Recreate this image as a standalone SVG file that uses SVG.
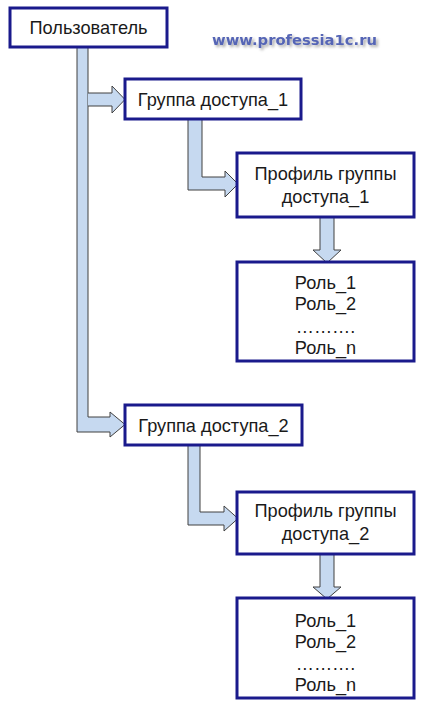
<svg xmlns="http://www.w3.org/2000/svg" width="424" height="706" viewBox="0 0 424 706">
<style>
.box{fill:#fff;stroke:#1a1a8c;stroke-width:3}
.arr{fill:#c6d9f0;stroke:#404040;stroke-width:1;stroke-linejoin:miter}
text{font-family:"Liberation Sans",Arial,sans-serif;font-size:18.2px;fill:#1a1a1a;text-anchor:middle}
.wm{font-family:"DejaVu Sans",Verdana,sans-serif;font-weight:bold;font-size:14px;fill:#5565b5;text-anchor:start}
</style>
<defs>
<filter id="sh" x="-10%" y="-50%" width="120%" height="200%">
<feGaussianBlur in="SourceAlpha" stdDeviation="1.5" result="b"/>
<feOffset dx="2" dy="2" result="o"/>
<feComponentTransfer in="o" result="s"><feFuncA type="linear" slope="0.35"/></feComponentTransfer>
<feMerge><feMergeNode in="s"/><feMergeNode in="SourceGraphic"/></feMerge>
</filter>
</defs>
<rect width="424" height="706" fill="#fff"/>
<g id="connectors">
<path class="arr" d="M77,47 L77,432 L110,432 L110,437 L125,424.5 L110,412 L110,417 L88,417 L88,47"/>
<path class="arr" d="M88,93 L112,93 L112,86 L125,99.5 L112,113 L112,106 L88,106"/>
<path class="arr" d="M188,119 L188,190 L225,190 L225,197 L238,184 L225,171 L225,177 L202,177 L202,119"/>
<path class="arr" d="M320,217 L320,250 L313,250 L327,263 L341,250 L334,250 L334,217"/>
<path class="arr" d="M188,445 L188,525 L224,525 L224,531 L238,518.5 L224,506 L224,512 L200,512 L200,445"/>
<path class="arr" d="M320,554 L320,587 L313,587 L327,599 L341,587 L334,587 L334,554"/>
</g>
<g id="user">
<rect class="box" x="10" y="8" width="157" height="39"/>
<text x="88.5" y="33.5">Пользователь</text>
</g>
<g id="watermark">
<text class="wm" x="212" y="45" textLength="165" lengthAdjust="spacingAndGlyphs" filter="url(#sh)">www.professia1c.ru</text>
</g>
<g id="group1">
<rect class="box" x="125" y="79" width="176" height="40"/>
<text x="213" y="105.5">Группа доступа_1</text>
</g>
<g id="profile1">
<rect class="box" x="237" y="153" width="177" height="64"/>
<text x="325.5" y="180">Профиль группы</text>
<text x="325.5" y="203">доступа_1</text>
</g>
<g id="roles1">
<rect class="box" x="237" y="262" width="177" height="99"/>
<text x="325.5" y="289">Роль_1</text>
<text x="325.5" y="310">Роль_2</text>
<text x="325.5" y="333">……….</text>
<text x="325.5" y="354">Роль_n</text>
</g>
<g id="group2">
<rect class="box" x="125" y="405" width="177" height="40"/>
<text x="213.5" y="431.5">Группа доступа_2</text>
</g>
<g id="profile2">
<rect class="box" x="237" y="492" width="177" height="62"/>
<text x="325.5" y="517">Профиль группы</text>
<text x="325.5" y="540">доступа_2</text>
</g>
<g id="roles2">
<rect class="box" x="237" y="598" width="177" height="100"/>
<text x="325.5" y="627">Роль_1</text>
<text x="325.5" y="648">Роль_2</text>
<text x="325.5" y="670">……….</text>
<text x="325.5" y="691">Роль_n</text>
</g>
</svg>
